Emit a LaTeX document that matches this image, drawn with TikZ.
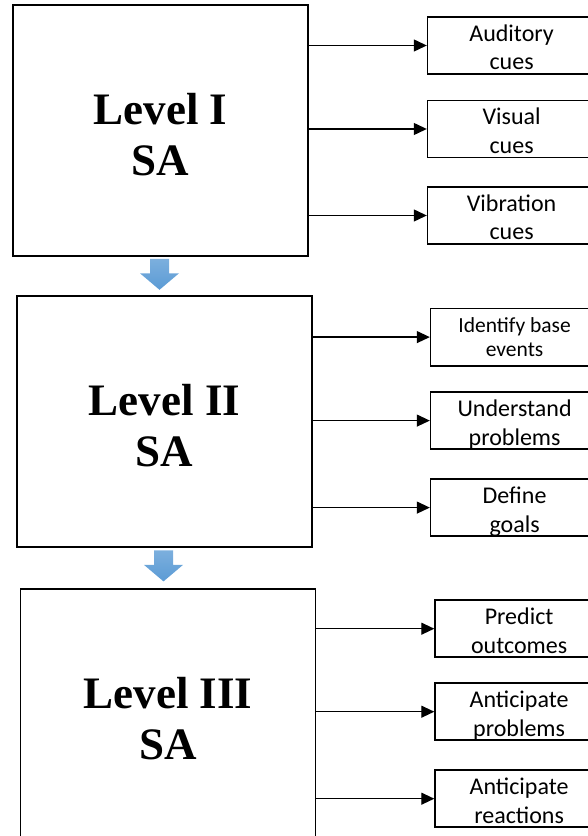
\documentclass[tikz,border=0pt]{standalone}
\usepackage{fontspec}
\setmainfont{Liberation Serif}
\newfontfamily\cuefont{Carlito}
\usetikzlibrary{arrows.meta, positioning, calc}
\definecolor{flowblue}{RGB}{91, 155, 213}
\newcommand{\levelname}[1]{\rule{0pt}{39pt}Level #1\\SA}
\newcommand{\cuetext}[3][4pt]{\rule{0pt}{24.5pt}#2\\#3\rule[-#1]{0pt}{#1}}

\begin{document}
\begin{tikzpicture}[
    x=1pt, y=1pt,
    level/.style={draw, line width=1.6pt, minimum width=295pt,
                  minimum height=251pt, align=center,
                  font=\fontsize{45}{51}\selectfont\bfseries},
    cue/.style={draw, line width=1.6pt, minimum width=168pt,
                minimum height=57pt, inner ysep=0pt, align=center,
                anchor=west, font=\cuefont\fontsize{24}{28.5}\selectfont},
    smallcue/.style={cue, font=\cuefont\fontsize{21.5}{24}\selectfont},
    arr/.style={-{Triangle[length=13pt, width=12pt]}, line width=1.2pt},
    stepdown/.style={top color=flowblue!80!white, bottom color=flowblue}
  ]
  \useasboundingbox (0,0) rectangle (587,836);

  % the three levels
  \node[level] (lvlone) at (160.5,705.5) {\levelname{I}};
  \node[level, below=38.5pt of lvlone, xshift=4pt] (lvltwo) {\levelname{II}};
  \node[level, below=40.5pt of lvltwo, xshift=3.5pt] (lvlthree) {\levelname{III}};

  % level I
  \node[cue] (audit) at ($(lvlone.east)+(118,85)$) {\cuetext{Auditory}{cues}};
  \node[cue] (visual) at ($(lvlone.east)+(118,1.5)$) {\cuetext{Visual}{cues}};
  \node[cue] (vibra) at ($(lvlone.east)+(118,-85)$) {\cuetext{Vibration}{cues}};

  % level II
  \node[smallcue] (ident) at ($(lvltwo.east)+(117,84.5)$) {\cuetext[9pt]{Identify base}{events}};
  \node[cue] (underst) at ($(lvltwo.east)+(117,1)$) {\cuetext{Understand}{problems}};
  \node[cue] (goals) at ($(lvltwo.east)+(117,-86)$) {\cuetext{Define}{goals}};

  % level III
  \node[cue] (predict) at ($(lvlthree.east)+(118,86)$) {\cuetext{Predict}{outcomes}};
  \node[cue] (antprob) at ($(lvlthree.east)+(118,3)$) {\cuetext{Anticipate}{problems}};
  \node[cue] (antreac) at ($(lvlthree.east)+(118,-84)$) {\cuetext{Anticipate}{reactions}};

  \foreach \lvl/\cue in {lvlone/audit, lvlone/visual, lvlone/vibra,
                         lvltwo/ident, lvltwo/underst, lvltwo/goals,
                         lvlthree/predict, lvlthree/antprob, lvlthree/antreac}
    \draw[arr] (\lvl.east |- \cue.west) -- (\cue.west);

  % block arrows between levels
  \shade[stepdown] ($(lvlone.south)+(-10.5,-2)$) -- ++(19,0) -- ++(0,-14.5)
    -- ++(10,0) -- ++(-19.5,-16.5) -- ++(-19.5,16.5) -- ++(10,0) -- cycle;
  \shade[stepdown] ($(lvltwo.south)+(-10.5,-2.5)$) -- ++(19,0) -- ++(0,-14.5)
    -- ++(10,0) -- ++(-19.5,-16.5) -- ++(-19.5,16.5) -- ++(10,0) -- cycle;
\end{tikzpicture}
\end{document}
